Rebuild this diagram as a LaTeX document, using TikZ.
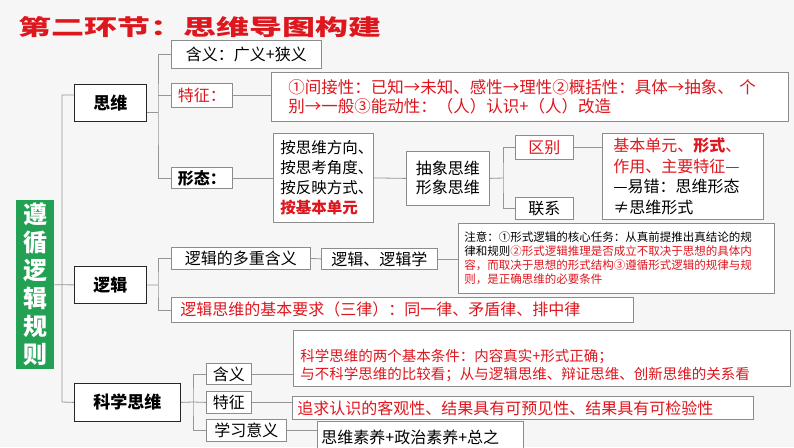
\documentclass[tikz,border=0pt]{standalone}
\usepackage{fontspec}
\usepackage{graphicx}
\setmainfont{Noto Sans CJK SC}
\usetikzlibrary{positioning}
\definecolor{hred}{RGB}{222,22,30}
\definecolor{bgray}{RGB}{140,140,140}
\definecolor{lgray}{RGB}{150,150,150}
\definecolor{lgreen}{RGB}{34,160,84}
\definecolor{bgc}{RGB}{246,246,246}

\begin{document}
\begin{tikzpicture}[x=1pt, y=-1pt,
    every node/.style={font=\fontsize{16}{19}\selectfont},
    bx/.style 2 args={draw=bgray, fill=white, line width=0.8pt, inner sep=0pt,
                      anchor=north west, minimum width=#1, minimum height=#2},
    mn/.style 2 args={bx={#1}{#2}, draw=black!85,
                      font=\fontsize{17}{20}\selectfont\bfseries},
    rd/.style={text=hred},
    ln/.style={draw=lgray, line width=0.8pt},
  ]
  \useasboundingbox (0,0) rectangle (794,447);
  \clip (0,0) rectangle (794,447);
  \fill[bgc] (0,0) rectangle (794,447);

  \node[anchor=west, text=hred, inner sep=0pt,
        font=\fontsize{22}{26}\selectfont\bfseries] (title) at (18,27)
        {\scalebox{1.5}[1]{第二环节：思维导图构建}};

  \node[anchor=north west, fill=lgreen, minimum width=38pt, minimum height=169pt,
        inner sep=0pt, text=white, align=center,
        font=\fontsize{24}{28}\selectfont\bfseries] (gz) at (16,200)
        {遵\\循\\逻\\辑\\规\\则};

  % first level
  \node[mn={72pt}{37pt}] (sw) at (74,84) {思维};
  \node[mn={72pt}{37pt}] (lj) at (74,266) {逻辑};
  \node[mn={106pt}{38pt}] (kx) at (74,383) {科学思维};

  % 思维
  \node[bx={150pt}{28pt}] (hy) at (171,40) {含义：广义+狭义};
  \node[bx={61pt}{24pt}, rd] (tz) at (171,83) {特征：};
  \node[bx={61pt}{21pt}, font=\fontsize{16}{19}\selectfont\bfseries] (xt) at (171,167) {形态：};
  \node[bx={517pt}{49pt}, rd, inner xsep=17pt, text width=483pt, align=left,
        font=\fontsize{16.5}{19.5}\selectfont] (tzt) at (271,72)
        {①间接性：已知→未知、感性→理性②概括性：具体→抽象、 个\\别→一般③能动性：（人）认识+（人）改造};
  \node[bx={100pt}{89pt}, inner xsep=7pt, text width=86pt, align=left,
        font=\fontsize{15.5}{20}\selectfont] (ab) at (273,133)
        {按思维方向、\\按思考角度、\\按反映方式、\\{\color{hred}\bfseries 按基本单元}};
  \node[bx={83pt}{54pt}, align=left] (cx) at (406,151) {抽象思维\\形象思维};
  \node[bx={58pt}{24pt}, rd] (qb) at (515,135) {区别};
  \node[bx={58pt}{22pt}] (lx) at (515,197) {联系};
  \node[bx={161pt}{86pt}, inner xsep=11pt, text width=139pt, align=left,
        font=\fontsize{16}{20.5}\selectfont] (qbr) at (602,133)
        {{\color{hred}基本单元、\textbf{形式}、}\\{\color{hred}作用、主要特征—}\\—易错：思维形态\\≠思维形式};

  % 逻辑
  \node[bx={139pt}{22pt}] (dc) at (171,247) {逻辑的多重含义};
  \node[bx={116pt}{21pt}] (ljx) at (321,248) {逻辑、逻辑学};
  \node[bx={316pt}{70pt}, inner xsep=6pt, text width=304pt, align=left,
        font=\fontsize{11.5}{13.8}\selectfont] (zy) at (458,223)
        {注意：①形式逻辑的核心任务：从真前提推出真结论的规\\律和规则{\color{hred}②形式逻辑推理是否成立不取决于思想的具体内}\\{\color{hred}容，而取决于思想的形式结构③遵循形式逻辑的规律与规}\\{\color{hred}则，是正确思维的必要条件}};
  \node[bx={462pt}{25pt}, rd, inner xsep=9pt, text width=444pt, align=left] (yq) at (171,297)
        {逻辑思维的基本要求（三律）：同一律、矛盾律、排中律};

  % 科学思维
  \node[bx={45pt}{21pt}] (hy2) at (206,363) {含义};
  \node[bx={45pt}{22pt}] (tz2) at (206,391) {特征};
  \node[bx={80pt}{22pt}] (xx) at (206,419) {学习意义};
  \node[bx={497pt}{56pt}, rd, inner xsep=7pt, text width=483pt, align=left,
        font=\fontsize{14.5}{18}\selectfont] (hyr) at (293,330)
        {\rule{0pt}{26pt}科学思维的两个基本条件：内容真实+形式正确；\\与不科学思维的比较看；从与逻辑思维、辩证思维、创新思维的关系看};
  \node[bx={461pt}{23pt}, rd, inner xsep=5pt, text width=451pt, align=left] (tzr) at (292,396)
        {追求认识的客观性、结果具有可预见性、结果具有可检验性};
  \node[bx={206pt}{31pt}, inner xsep=4pt, text width=198pt, align=left] (xxr) at (317,421)
        {思维素养+政治素养+总之};

  % connectors
  \coordinate (t1) at (62,95);
  \coordinate (t3) at (62,402);
  \draw[ln] (sw.west |- t1) -- (t1) -- (t3) -- (kx.west);
  \draw[ln] (gz.east) -- (lj.west);

  \coordinate (j1) at (158,112);
  \draw[ln] (sw.east |- j1) -- (j1);
  \draw[ln] (hy.west) -| (j1) |- (xt.west);
  \draw[ln] (tz.west) -- (tz.west -| j1);
  \draw[ln] (tz.east) -- (tz.east -| tzt.west);
  \draw[ln] (xt.east) -- (ab.west);
  \draw[ln] (ab.east) -- (cx.west);
  \coordinate (j2) at (503,178);
  \draw[ln] (cx.east) -- (j2);
  \draw[ln] (qb.west) -| (j2) |- (lx.west);
  \draw[ln] (qb.east) -- (qb.east -| qbr.west);

  \coordinate (j3) at (158,285);
  \draw[ln] (lj.east) -- (j3);
  \draw[ln] (dc.west) -| (j3) |- (yq.west);
  \draw[ln] (dc.east) -- (ljx.west);
  \draw[ln] (ljx.east) -- (ljx.east -| zy.west);

  \coordinate (j4) at (193,402);
  \draw[ln] (kx.east) -- (j4);
  \draw[ln] (hy2.west) -| (j4) |- (xx.west);
  \draw[ln] (tz2.west) -- (j4);
  \draw[ln] (hy2.east) -- (hy2.east -| hyr.west);
  \draw[ln] (tz2.east) -- (tz2.east -| tzr.west);
  \draw[ln] (xx.east) -- (xx.east -| xxr.west);
\end{tikzpicture}
\end{document}
